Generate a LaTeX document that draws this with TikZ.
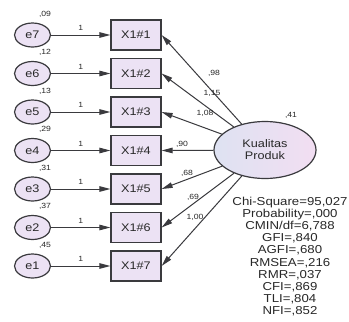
\documentclass[tikz,border=0pt]{standalone}
\usepackage{fontspec}
\setmainfont{Liberation Sans}[FakeStretch=1.15]
\usetikzlibrary{arrows.meta,shapes.geometric}
\definecolor{ln}{RGB}{58,58,62}
\definecolor{bx}{RGB}{236,226,244}
\definecolor{latl}{RGB}{222,226,242}
\definecolor{latr}{RGB}{242,222,242}
\definecolor{tx}{RGB}{40,40,40}
\begin{document}
\begin{tikzpicture}[x=1pt,y=-1pt,
 err/.style={ellipse,draw=ln,line width=1.2pt,fill=bx,minimum width=36pt,minimum height=24pt,inner sep=0pt,font=\fontsize{11}{12}\selectfont,text=tx},
 obs/.style={rectangle,draw=ln,line width=1.2pt,fill=bx,minimum width=50pt,minimum height=30pt,inner sep=0pt,font=\fontsize{11}{12}\selectfont,text=tx},
 lat/.style={ellipse,draw=ln,line width=1.2pt,left color=latl,right color=latr,minimum width=102pt,minimum height=57pt,inner sep=0pt,align=center,font=\fontsize{11}{12}\selectfont,text=tx},
 arr/.style={draw=ln,line width=1pt,-{Triangle[length=11pt,width=5.5pt]}},
 lbl/.style={font=\fontsize{7.5}{9}\selectfont,text=tx,inner sep=0pt},
 fit/.style={font=\fontsize{11.5}{12.1}\selectfont,text=tx,align=center,inner sep=0pt}
]
\useasboundingbox (0,0) rectangle (349,322);
\fill[white] (0,0) rectangle (349,322);
% rows
\foreach \i/\e/\v [count=\k from 0] in {1/7/{,09}, 2/6/{,12}, 3/5/{,13}, 4/4/{,29}, 5/3/{,31}, 6/2/{,37}, 7/1/{,45}}{
  \pgfmathsetmacro{\yy}{35+38.5*\k}
  \node[err] (e\e) at (32.5,\yy) {e\e};
  \node[obs] (x\i) at (136,\yy) {X1\#\i};
  \node[lbl] (v\e) at (45,\yy-21) {\v};
  \draw[arr] (e\e) -- (x\i) node[lbl,midway,above=4pt] (w\e) {1};
}
\node[lat] (K) at (265,150) {Kualitas\\Produk};
\node[lbl] (vK) at (291,115) {,41};
\foreach \i in {1,...,7}{
  \draw[arr] (K) -- (x\i.east);
}
\node[lbl] (c1) at (214,73) {,98};
\node[lbl] (c2) at (212,93) {1,15};
\node[lbl] (c3) at (205,113) {1,08};
\node[lbl] (c4) at (182,144) {,90};
\node[lbl] (c5) at (187,173) {,68};
\node[lbl] (c6) at (193,197) {,69};
\node[lbl] (c7) at (195,217) {1,00};
\node[fit,anchor=north] (fitidx) at (290,197) {Chi-Square=95,027\\Probability=,000\\CMIN/df=6,788\\GFI=,840\\AGFI=,680\\RMSEA=,216\\RMR=,037\\CFI=,869\\TLI=,804\\NFI=,852};
\end{tikzpicture}
\end{document}
